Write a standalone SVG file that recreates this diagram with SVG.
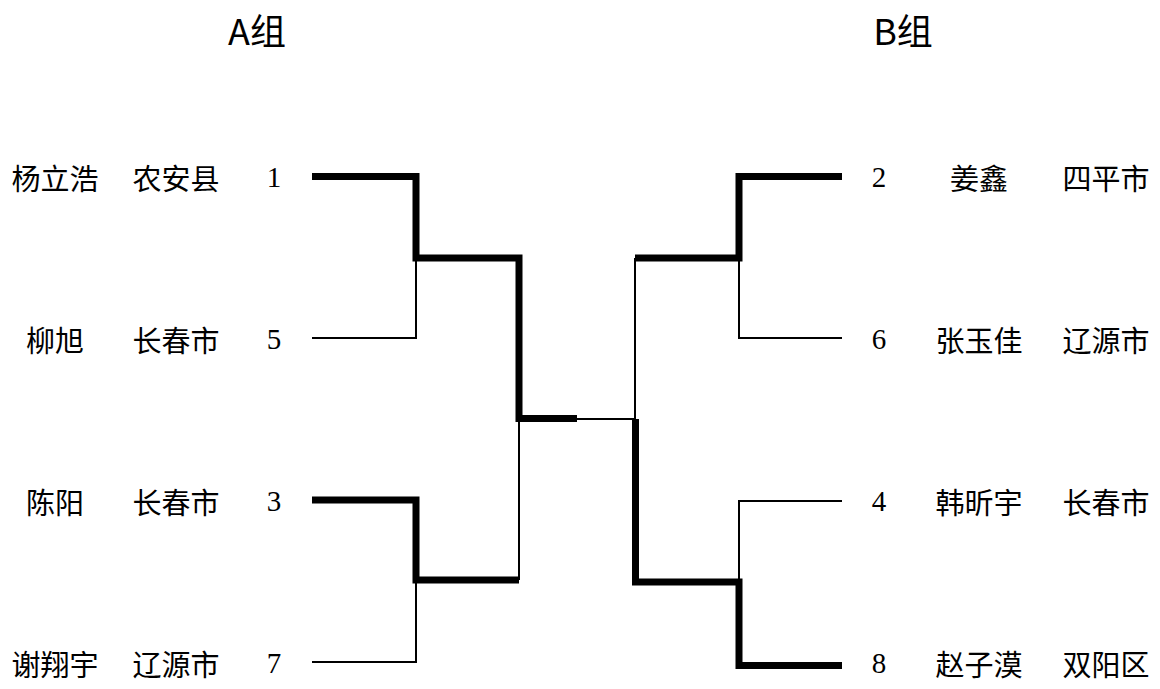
<svg xmlns="http://www.w3.org/2000/svg" width="1160" height="689" viewBox="0 0 1160 689">
<style>
.t{font-family:"Noto Sans CJK SC","Noto Sans",sans-serif;font-size:36px;fill:#000;text-anchor:middle;dominant-baseline:central}
.n{font-family:"Noto Sans CJK SC",sans-serif;font-size:29px;fill:#000;text-anchor:middle;dominant-baseline:central}
.d{font-family:"Liberation Serif",serif;font-size:29px;fill:#000;text-anchor:middle;dominant-baseline:central}
.thick{fill:none;stroke:#000;stroke-width:7;stroke-linejoin:miter}
.thin{fill:none;stroke:#000;stroke-width:2}
</style>
<rect width="1160" height="689" fill="#fff"/>
<g id="titles">
<text class="t" x="257" y="29">A组</text>
<text class="t" x="903" y="29">B组</text>
</g>
<g id="p1"><text class="n" x="55" y="177">杨立浩</text><text class="n" x="176" y="177">农安县</text><text class="d" x="274" y="177">1</text></g>
<g id="p5"><text class="n" x="55" y="339">柳旭</text><text class="n" x="176" y="339">长春市</text><text class="d" x="274" y="339">5</text></g>
<g id="p3"><text class="n" x="55" y="501">陈阳</text><text class="n" x="176" y="501">长春市</text><text class="d" x="274" y="501">3</text></g>
<g id="p7"><text class="n" x="55" y="663">谢翔宇</text><text class="n" x="176" y="663">辽源市</text><text class="d" x="274" y="663">7</text></g>
<g id="p2"><text class="d" x="879" y="177">2</text><text class="n" x="979" y="177">姜鑫</text><text class="n" x="1106" y="177">四平市</text></g>
<g id="p6"><text class="d" x="879" y="339">6</text><text class="n" x="979" y="339">张玉佳</text><text class="n" x="1106" y="339">辽源市</text></g>
<g id="p4"><text class="d" x="879" y="501">4</text><text class="n" x="979" y="501">韩昕宇</text><text class="n" x="1106" y="501">长春市</text></g>
<g id="p8"><text class="d" x="879" y="663">8</text><text class="n" x="979" y="663">赵子漠</text><text class="n" x="1106" y="663">双阳区</text></g>
<g id="connectors">
<path class="thick" d="M312,176.5 H416 V258 H519 V418.5 H577"/>
<path class="thick" d="M312,500 H416 V580 H519"/>
<path class="thin" d="M312,338 H416 V258"/>
<path class="thin" d="M312,662 H416 V580"/>
<path class="thin" d="M519,418 V580"/>
<path class="thin" d="M577,419 H635"/>
<path class="thick" d="M842,176.5 H739 V258 H635"/>
<path class="thick" d="M635.5,419 V582 H739 V665.5 H842"/>
<path class="thin" d="M842,338 H739 V258"/>
<path class="thin" d="M842,501 H739 V582"/>
<path class="thin" d="M635,258 V419"/>
</g>
</svg>
